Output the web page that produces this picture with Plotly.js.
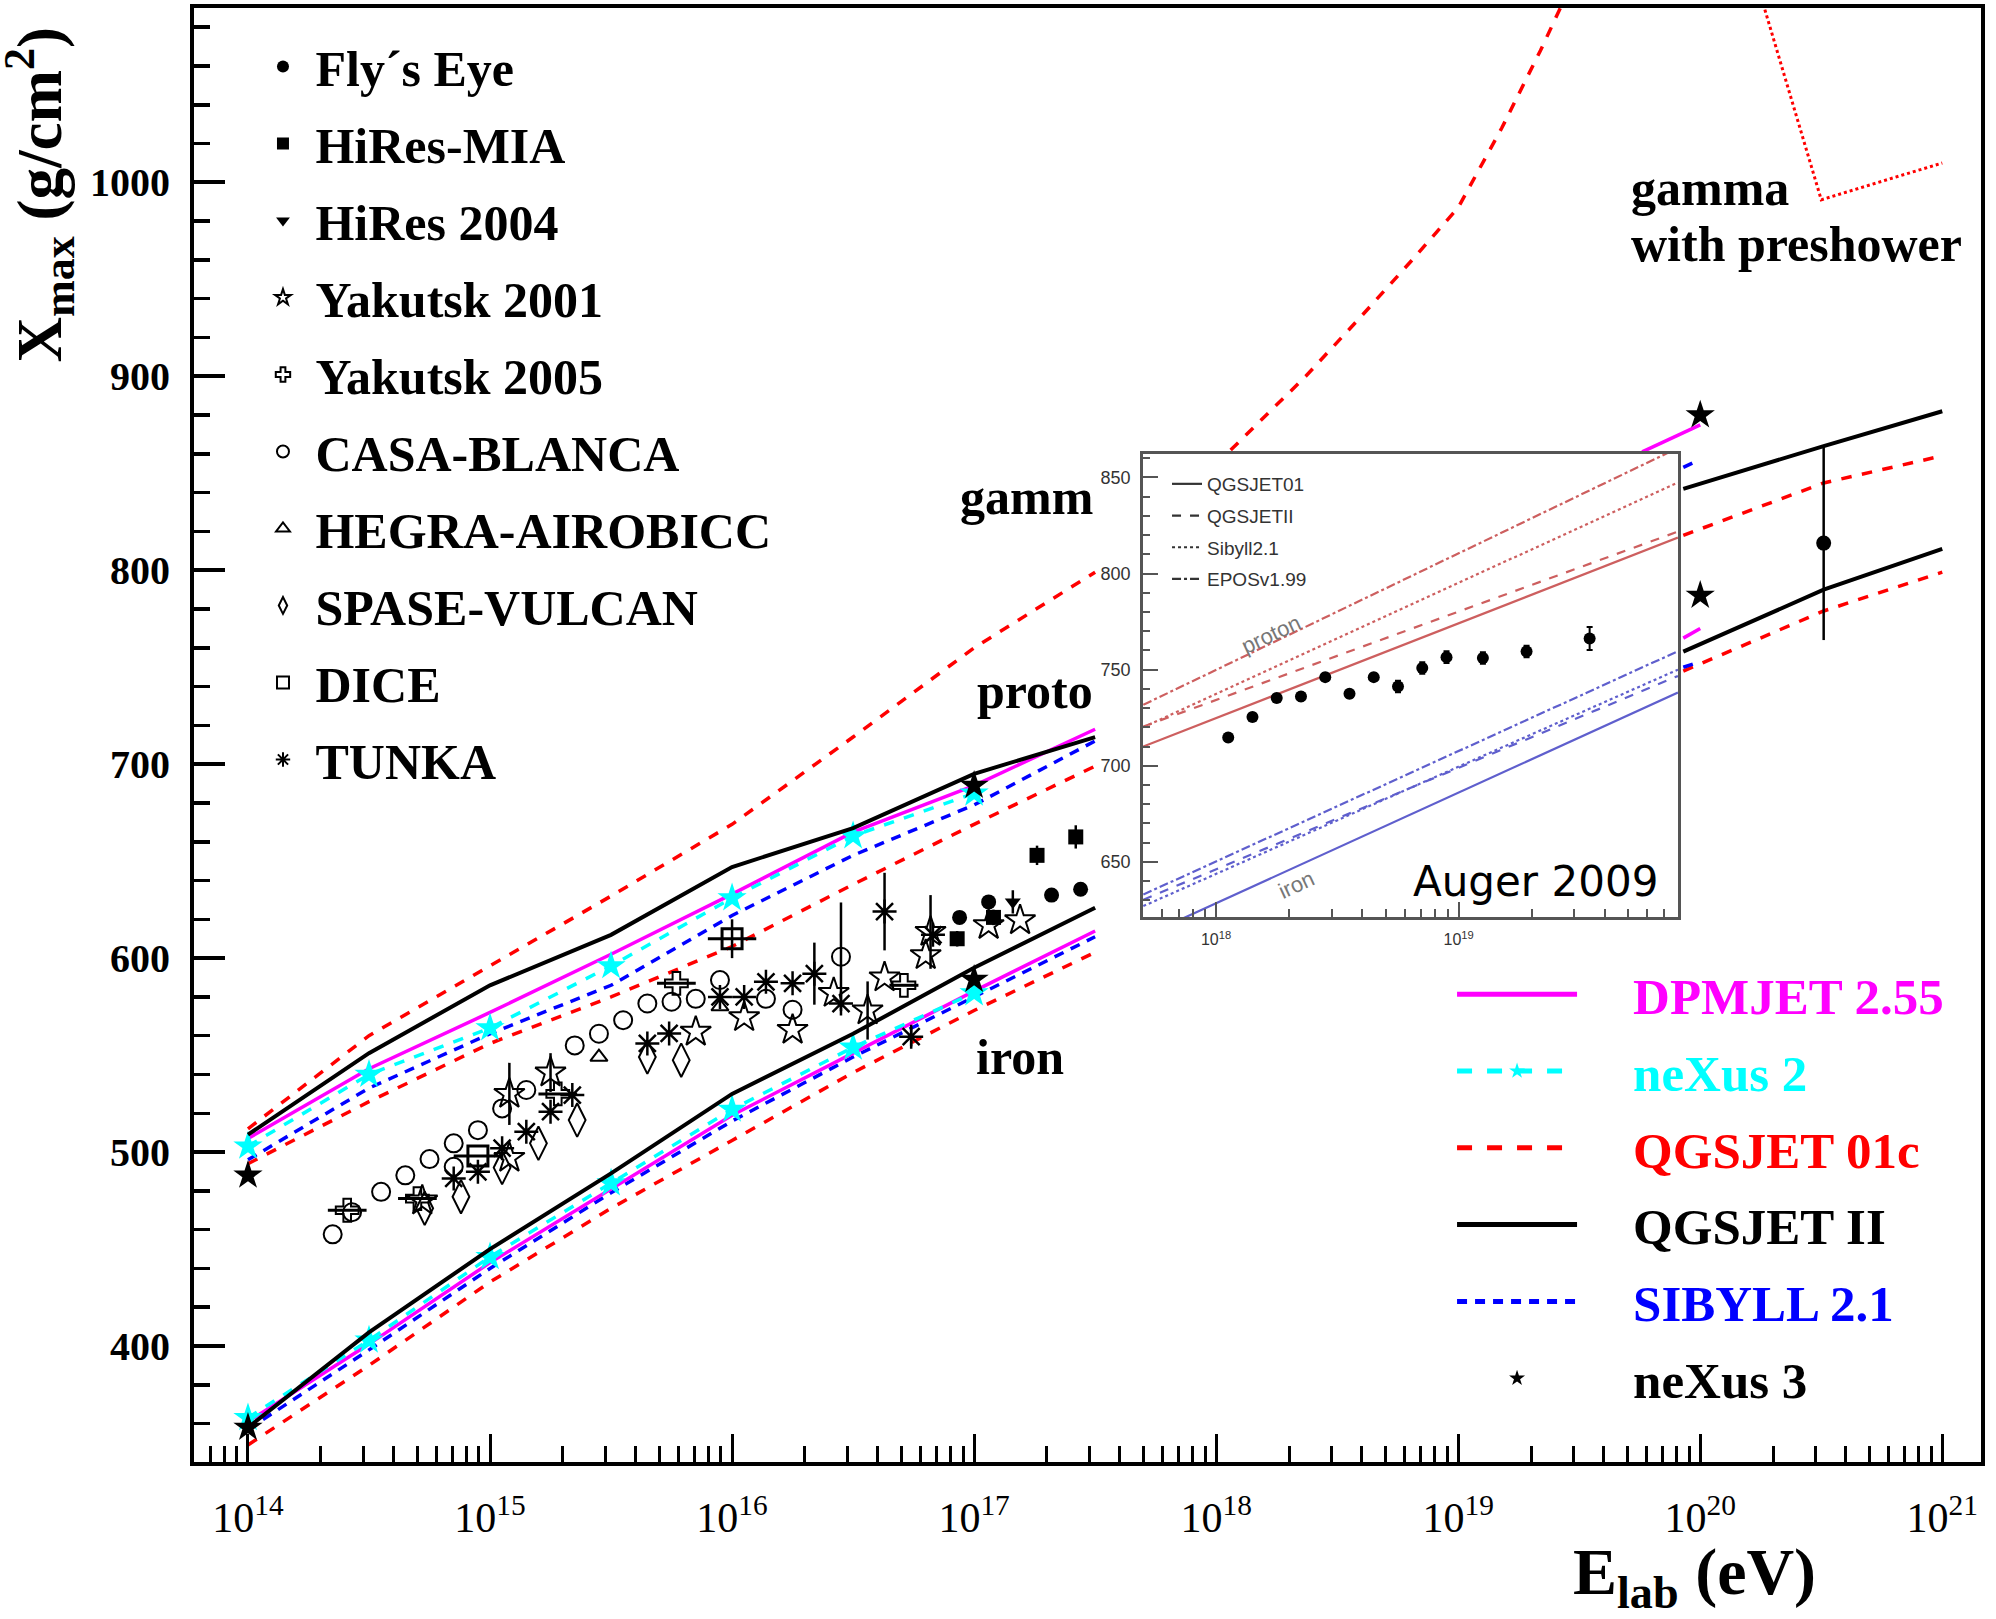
<!DOCTYPE html>
<html><head><meta charset="utf-8">
<script src="https://cdn.plot.ly/plotly-3.0.1.min.js"></script>
<style>html,body{margin:0;padding:0;background:#fff}#chart{width:1996px;height:1619px}</style>
</head><body><div id="chart"></div>
<script>
const SERIF = '"Liberation Serif","Times New Roman",serif';
const SANS_N = '"Liberation Sans Narrow","Liberation Sans",Arial,sans-serif';

// ===== Model curves, main panel: log10(E/eV) -> Xmax (g/cm^2)
const gridL = [14, 14.5, 15, 15.5, 16, 16.5, 17, 17.5];
const gridR = [19.93, 20.51, 21.0];

const dpm_p  = [507, 543, 572, 602, 633, 665, 689, 718];
const dpm_Fe = [361, 401, 443, 481, 519, 551, 583, 614];
const dpm_pR_lg = [19.76, 20.0];  const dpm_pR = [861, 875];
const dpm_FeR_lg = [19.93, 20.0]; const dpm_FeR = [765, 770];

const nx2_lg = [14, 14.5, 15, 15.5, 16, 16.5, 17];
const nx2_p  = [503, 540, 564, 596, 631, 663, 685];
const nx2_Fe = [363, 403, 446, 484, 522, 554, 582];

const q01_p  = [494, 526, 556, 580, 606, 638, 669, 699];
const q01_Fe = [349, 390, 433, 471, 506, 541, 573, 603];
const q01_pR = [818, 845, 859];
const q01_FeR = [748, 779, 799];
const gam_lg = [14, 14.5, 15, 15.5, 16, 16.5, 17, 17.5];
const gam    = [512, 560, 596, 632, 669, 714, 760, 799];
const gamR_lg = [18.06, 18.37, 18.6, 18.81, 19.0, 19.18, 19.34, 19.43];
const gamR    = [862, 900, 931, 960, 987, 1028, 1068, 1092];
const gamPre_lg = [20.26, 20.5, 21.0];
const gamPre    = [1092, 991, 1010];

const q2_p  = [509, 551, 586, 612, 647, 667, 695, 714];
const q2_Fe = [358, 407, 450, 489, 530, 561, 595, 626];
const q2_pR = [842, 864, 882];
const q2_FeR = [758, 790, 811];

const sib_p  = [496, 533, 561, 586, 622, 653, 679, 712];
const sib_Fe = [357, 398, 440, 479, 516, 549, 580, 611];
const sibR_lg = [19.93, 19.98];
const sib_pR = [853, 856];
const sib_FeR = [750, 752];

const nx3_lg = [14, 14, 17, 17, 20, 20];
const nx3    = [488, 358, 689, 589, 880, 787];

// ===== Experimental data
const fly_lg = [16.94, 17.06, 17.32, 17.44];
const fly    = [621, 629, 632.5, 635.5];
const fly_err = [3, 3, 3, 3];
const mia_lg = [16.93, 17.08, 17.26, 17.42];
const mia    = [610, 621, 653, 662.5];
const mia_err = [4, 4, 5, 6];
const hr04_lg = [17.16];
const hr04    = [629];
const hr04_err = [6];
const yak01_lg = [14.72, 15.08, 15.08, 15.25, 15.85, 16.05, 16.25, 16.42, 16.56, 16.63, 16.80, 16.82, 17.06, 17.19];
const yak01    = [475, 497, 530, 541, 562, 569.5, 563, 582, 573, 590, 601.5, 613.5, 617, 619.5];
const yak01_err = [0, 0, 16, 10, 0, 0, 0, 0, 15, 0, 0, 19, 0, 0];
const yak05_lg = [14.41, 14.70, 15.28, 15.77, 16.71];
const yak05    = [470, 476, 530, 587, 586];
const yak05_dlg = [0.08, 0.08, 0.08, 0.08, 0.06];
const casa_lg = [14.35, 14.43, 14.55, 14.65, 14.75, 14.85, 14.85, 14.95, 15.05, 15.15, 15.35, 15.45, 15.55, 15.65, 15.75, 15.85, 15.95, 16.14, 16.25, 16.45];
const casa    = [457.6, 469, 479.5, 488, 496.4, 504.5, 492.4, 511.3, 522.5, 532, 555, 561, 568, 576.6, 577.5, 579, 588.7, 579, 573.4, 600.7];
const casa_err = [0, 0, 0, 0, 0, 0, 0, 0, 0, 0, 0, 0, 0, 0, 0, 0, 0, 0, 0, 28];
const hegra_lg = [15.45, 15.95];
const hegra    = [549, 575];
const spase_lg = [14.73, 14.88, 15.05, 15.20, 15.36, 15.65, 15.79];
const spase    = [471, 477, 492, 504.5, 516.5, 549, 547.4];
const dice_lg = [14.95, 16.0];
const dice    = [498, 610];
const dice_err = [0, 10];
const dice_dlg = [0.1, 0.1];
const tunka_lg = [14.85, 14.95, 15.05, 15.15, 15.25, 15.34, 15.65, 15.74, 15.95, 16.05, 16.14, 16.25, 16.34, 16.45, 16.63, 16.74, 16.83];
const tunka    = [486.4, 489.8, 502, 510.5, 520.8, 529.4, 556, 561.2, 580, 580, 587.8, 587, 592, 576.6, 624, 559.5, 612];
const tunka_err = [0, 0, 0, 0, 0, 0, 0, 0, 0, 0, 0, 0, 16, 0, 20, 5, 0];
const uhe_lg = [20.51];
const uhe    = [814];
const uhe_err = [50];

// ===== Inset (Auger 2009)
const insLg = [17.70, 19.904];
const ins_q01_p = [710, 818.7];
const ins_q2_p  = [720.4, 821.8];
const ins_sib_p = [720, 847.4];
const ins_epos_p = [731.7, 865.3];
const ins_q01_Fe = [611.2, 738.1];
const ins_q2_Fe  = [630.3, 746.7];
const ins_sib_Fe = [627, 750];
const ins_epos_Fe = [633, 759.6];
const aug_lg = [18.05, 18.15, 18.25, 18.35, 18.45, 18.55, 18.65, 18.75, 18.85, 18.95, 19.10, 19.28, 19.54];
const aug    = [714.7, 725.3, 735.2, 736.0, 746.1, 737.4, 746.1, 741.2, 750.8, 756.5, 756.0, 759.4, 766.2];
const aug_err = [2, 2, 2, 2, 2, 2, 2, 3, 3, 3, 3, 3, 6];

const xTickExp = [14, 15, 16, 17, 18, 19, 20, 21];
const yTicks = [400, 500, 600, 700, 800, 900, 1000];
const insYTicks = [650, 700, 750, 800, 850];

// ===== helpers
const E = v => (v === null ? null : Math.pow(10, v));
function join(parts) {
  const xs = [], ys = [];
  parts.forEach((p, i) => {
    if (i) { xs.push(null); ys.push(null); }
    p[0].forEach((v, j) => { xs.push(E(v)); ys.push(p[1][j]); });
  });
  return {x: xs, y: ys};
}
function model(name, color, dash, width, parts, rank, extra) {
  const d = join(parts);
  return Object.assign({type: 'scatter', mode: 'lines', x: d.x, y: d.y, name: name,
    legend: 'legend2', legendgroup: 'm' + rank, legendrank: rank,
    line: {color: color, dash: dash, width: width}, hoverinfo: 'skip'}, extra || {});
}
function exp(name, lg, vals, marker, rank, err, dlg) {
  const t = {type: 'scatter', mode: 'markers', x: lg.map(E), y: vals, name: '&nbsp;<b>' + name + '</b>',
    legend: 'legend', legendgroup: 'e' + rank, legendrank: rank, marker: marker, hoverinfo: 'skip', cliponaxis: false};
  if (err) t.error_y = {type: 'data', array: err, visible: true, color: 'black', thickness: 2.5, width: 0};
  if (dlg) t.error_x = {type: 'data', symmetric: false,
    array: lg.map((v, i) => E(v) * (Math.pow(10, dlg[i]) - 1)),
    arrayminus: lg.map((v, i) => E(v) * (1 - Math.pow(10, -dlg[i]))),
    visible: true, color: 'black', thickness: 3, width: 0};
  return t;
}
const pad = '&nbsp;&nbsp;&nbsp;&nbsp;';
const col = (c, s) => pad + '<span style="color:' + c + '"><b>' + s + '</b></span>';

const traces = [
  model(col('#ff0000', 'QGSJET 01c'), '#ff0000', 'dash', 3.5,
    [[gridL, q01_p], [gridL, q01_Fe], [gridR, q01_pR], [gridR, q01_FeR], [gam_lg, gam], [gamR_lg, gamR]], 3),
  {type: 'scatter', mode: 'lines', x: gamPre_lg.map(E), y: gamPre, showlegend: false, hoverinfo: 'skip',
   line: {color: '#ff0000', dash: 'dot', width: 3}},
  model(col('#0000ff', 'SIBYLL 2.1'), '#0000ff', '10px,8px', 3.5,
    [[gridL, sib_p], [gridL, sib_Fe], [sibR_lg, sib_pR], [sibR_lg, sib_FeR]], 5),
  model(col('#ff00ff', 'DPMJET 2.55'), '#ff00ff', 'solid', 3.5,
    [[gridL, dpm_p], [gridL, dpm_Fe], [dpm_pR_lg, dpm_pR], [dpm_FeR_lg, dpm_FeR]], 1),
  model(col('#00ffff', 'neXus 2'), '#00ffff', 'dash', 3.5,
    [[nx2_lg, nx2_p], [nx2_lg, nx2_Fe]], 2,
    {mode: 'lines+markers', marker: {symbol: 'star', size: 22, color: '#00ffff'}}),
  model(col('#000000', 'QGSJET II'), '#000000', 'solid', 4,
    [[gridL, q2_p], [gridL, q2_Fe], [gridR, q2_pR], [gridR, q2_FeR]], 4),
  {type: 'scatter', mode: 'markers', x: nx3_lg.map(E), y: nx3, name: col('#000000', 'neXus 3'),
   legend: 'legend2', legendgroup: 'm6', legendrank: 6, hoverinfo: 'skip',
   marker: {symbol: 'star', size: 22, color: 'black'}},

  exp("Fly\u00b4s Eye", fly_lg, fly, {symbol: 'circle', size: 15, color: 'black'}, 1, fly_err),
  exp('HiRes-MIA', mia_lg, mia, {symbol: 'square', size: 15, color: 'black'}, 2, mia_err),
  exp('HiRes 2004', hr04_lg, hr04, {symbol: 'triangle-down', size: 14, color: 'black'}, 3, hr04_err),
  exp('Yakutsk 2001', yak01_lg, yak01, {symbol: 'star-open', size: 23, color: 'black', line: {width: 2}}, 4, yak01_err),
  exp('Yakutsk 2005', yak05_lg, yak05, {symbol: 'cross-open', size: 19, color: 'black', line: {width: 2}}, 5, null, yak05_dlg),
  exp('CASA-BLANCA', casa_lg, casa, {symbol: 'circle-open', size: 18, color: 'black', line: {width: 2}}, 6, casa_err),
  exp('HEGRA-AIROBICC', hegra_lg, hegra, {symbol: 'triangle-up-open', size: 15, color: 'black', line: {width: 2}}, 7),
  exp('SPASE-VULCAN', spase_lg, spase, {symbol: 'diamond-tall-open', size: 24, color: 'black', line: {width: 2}}, 8),
  exp('DICE', dice_lg, dice, {symbol: 'square-open', size: 20, color: 'black', line: {width: 3}}, 9, dice_err, dice_dlg),
  exp('TUNKA', tunka_lg, tunka, {symbol: 'asterisk-open', size: 20, color: 'black', line: {width: 2.5, color: 'black'}}, 10, tunka_err),
  {type: 'scatter', mode: 'markers', x: uhe_lg.map(E), y: uhe, showlegend: false, hoverinfo: 'skip',
   marker: {symbol: 'circle', size: 15, color: 'black'},
   error_y: {type: 'data', array: uhe_err, visible: true, color: 'black', thickness: 2.5, width: 0}}
];

// inset traces
const PRED = 'rgb(205,95,95)', FEBLUE = 'rgb(95,95,205)';
const insModels = [
  ['QGSJET01', 'solid', ins_q01_p, ins_q01_Fe],
  ['QGSJETII', 'dash', ins_q2_p, ins_q2_Fe],
  ['Sibyll2.1', 'dot', ins_sib_p, ins_sib_Fe],
  ['EPOSv1.99', 'dashdot', ins_epos_p, ins_epos_Fe]
];
insModels.forEach((m, i) => {
  traces.push({type: 'scatter', mode: 'lines', x: insLg.map(E), y: m[2], xaxis: 'x2', yaxis: 'y2',
    showlegend: false, hoverinfo: 'skip', line: {color: PRED, dash: m[1], width: 2.2}});
  traces.push({type: 'scatter', mode: 'lines', x: insLg.map(E), y: m[3], xaxis: 'x2', yaxis: 'y2',
    showlegend: false, hoverinfo: 'skip', line: {color: FEBLUE, dash: m[1], width: 2.2}});
  traces.push({type: 'scatter', mode: 'lines', x: [null], y: [null], xaxis: 'x2', yaxis: 'y2',
    name: m[0], legend: 'legend3', legendgroup: 'i' + i, legendrank: i + 1, hoverinfo: 'skip',
    line: {color: '#333', dash: m[1], width: 2.2}});
});
traces.push({type: 'scatter', mode: 'markers', x: aug_lg.map(E), y: aug, xaxis: 'x2', yaxis: 'y2',
  showlegend: false, hoverinfo: 'skip', marker: {symbol: 'circle', size: 12, color: 'black'},
  error_y: {type: 'data', array: aug_err, visible: true, color: 'black', thickness: 2, width: 3}});

// ticks
const xMinor = [];
for (let d = 13; d <= 21; d++) for (let k = 2; k <= 9; k++) xMinor.push(k * Math.pow(10, d));

const annFont = {family: SERIF, size: 50, color: 'black'};
const layout = {
  width: 1996, height: 1619,
  margin: {l: 194, r: 15, t: 8, b: 157, pad: 0},
  paper_bgcolor: 'white', plot_bgcolor: 'white',
  showlegend: true,
  xaxis: {
    type: 'log', range: [13.777, 21.16], domain: [0, 1],
    showline: true, linewidth: 4, linecolor: 'black', mirror: true,
    ticks: 'inside', ticklen: 28, tickwidth: 3, tickcolor: 'black',
    tickmode: 'array', tickvals: xTickExp.map(E),
    ticktext: xTickExp.map(e => '10<sup>' + e + '</sup>'),
    tickfont: {family: SERIF, size: 42, color: 'black'}, ticklabelstandoff: 16,
    showgrid: false, zeroline: false,
    minor: {tickmode: 'array', tickvals: xMinor, ticks: 'inside', ticklen: 16, tickwidth: 3, tickcolor: 'black', showgrid: false}
  },
  yaxis: {
    range: [340.2, 1089.9], domain: [0, 1],
    showline: true, linewidth: 4, linecolor: 'black', mirror: true,
    ticks: 'inside', ticklen: 31, tickwidth: 4, tickcolor: 'black',
    tickmode: 'array', tickvals: yTicks, ticktext: yTicks.map(v => '<b>' + v + '</b>'),
    tickfont: {family: SERIF, size: 40, color: 'black'}, ticklabelstandoff: 12,
    showgrid: false, zeroline: false,
    minor: {dtick: 20, tick0: 0, ticks: 'inside', ticklen: 16, tickwidth: 3.5, tickcolor: 'black', showgrid: false}
  },
  xaxis2: {
    type: 'log', range: [17.699, 19.904], domain: [0.5311, 0.8304], anchor: 'y2',
    showline: true, linewidth: 3, linecolor: '#555', mirror: true,
    ticks: 'inside', ticklen: 15, tickwidth: 2, tickcolor: '#555',
    tickmode: 'array', tickvals: [1e18, 1e19], ticktext: ['10<sup>18</sup>', '10<sup>19</sup>'],
    tickfont: {family: SANS_N, size: 16, color: '#333'}, ticklabelstandoff: 6,
    showgrid: false, zeroline: false,
    minor: {tickmode: 'array', tickvals: xMinor, ticks: 'inside', ticklen: 8, tickwidth: 2, tickcolor: '#555', showgrid: false}
  },
  yaxis2: {
    range: [621.3, 862.2], domain: [0.3748, 0.6933], anchor: 'x2',
    showline: true, linewidth: 3, linecolor: '#555', mirror: true,
    ticks: 'inside', ticklen: 15, tickwidth: 2, tickcolor: '#555',
    tickmode: 'array', tickvals: insYTicks,
    tickfont: {family: SANS_N, size: 18, color: '#333'}, ticklabelstandoff: 6,
    showgrid: false, zeroline: false,
    minor: {dtick: 10, tick0: 0, ticks: 'inside', ticklen: 7, tickwidth: 2, tickcolor: '#555', showgrid: false}
  },
  legend: {x: 0.0386, y: 0.9866, xanchor: 'left', yanchor: 'top', bgcolor: 'rgba(0,0,0,0)', borderwidth: 0,
    font: {family: SERIF, size: 50, color: 'black'}, traceorder: 'grouped', tracegroupgap: 9, itemsizing: 'constant'},
  legend2: {x: 0.704, y: 0.3490, xanchor: 'left', yanchor: 'top', bgcolor: 'rgba(0,0,0,0)', borderwidth: 0,
    font: {family: SERIF, size: 51, color: 'black'}, traceorder: 'grouped', tracegroupgap: 7.5, itemwidth: 120, itemsizing: 'constant'},
  legend3: {x: 0.5445, y: 0.6857, xanchor: 'left', yanchor: 'top', bgcolor: 'rgba(0,0,0,0)', borderwidth: 0,
    font: {family: SANS_N, size: 19, color: '#333'}, traceorder: 'grouped', tracegroupgap: 4},
  annotations: [
    {xref: 'paper', yref: 'paper', x: -0.0865, y: 0.872, xanchor: 'center', yanchor: 'middle', textangle: -90, showarrow: false,
     text: '<b>X<sub>max</sub> (g/cm<sup>2</sup>)</b>', font: {family: SERIF, size: 63, color: 'black'}},
    {xref: 'paper', yref: 'paper', x: 0.8394, y: -0.0790, xanchor: 'center', yanchor: 'middle', showarrow: false,
     text: '<b>E<sub>lab</sub> (eV)</b>', font: {family: SERIF, size: 66, color: 'black'}},
    {xref: 'x', yref: 'y', x: 17.5, y: 838, xanchor: 'right', yanchor: 'middle', showarrow: false, text: '<b>gamm</b>', font: annFont},
    {xref: 'x', yref: 'y', x: 17.5, y: 737.6, xanchor: 'right', yanchor: 'middle', showarrow: false, text: '<b>proto</b>', font: annFont},
    {xref: 'x', yref: 'y', x: 17.0, y: 549, xanchor: 'left', yanchor: 'middle', showarrow: false, text: '<b>iron</b>', font: annFont},
    {xref: 'x', yref: 'y', x: 19.707, y: 997, xanchor: 'left', yanchor: 'middle', showarrow: false, text: '<b>gamma</b>', font: annFont},
    {xref: 'x', yref: 'y', x: 19.707, y: 968, xanchor: 'left', yanchor: 'middle', showarrow: false, text: '<b>with preshower</b>', font: annFont},
    {xref: 'x2', yref: 'y2', x: 18.226, y: 768.2, xanchor: 'center', yanchor: 'middle', showarrow: false, textangle: -25,
     text: 'proton', font: {family: '"Liberation Sans",Arial,sans-serif', size: 22, color: '#777'}},
    {xref: 'x2', yref: 'y2', x: 18.333, y: 638.2, xanchor: 'center', yanchor: 'middle', showarrow: false, textangle: -25,
     text: 'iron', font: {family: '"Liberation Sans",Arial,sans-serif', size: 22, color: '#777'}},
    {xref: 'x2', yref: 'y2', x: 19.317, y: 639.7, xanchor: 'center', yanchor: 'middle', showarrow: false,
     text: 'Auger 2009', font: {family: '"DejaVu Sans",sans-serif', size: 42, color: 'black'}}
  ]
};

Plotly.newPlot('chart', traces, layout, {staticPlot: true, displayModeBar: false});
</script></body></html>
